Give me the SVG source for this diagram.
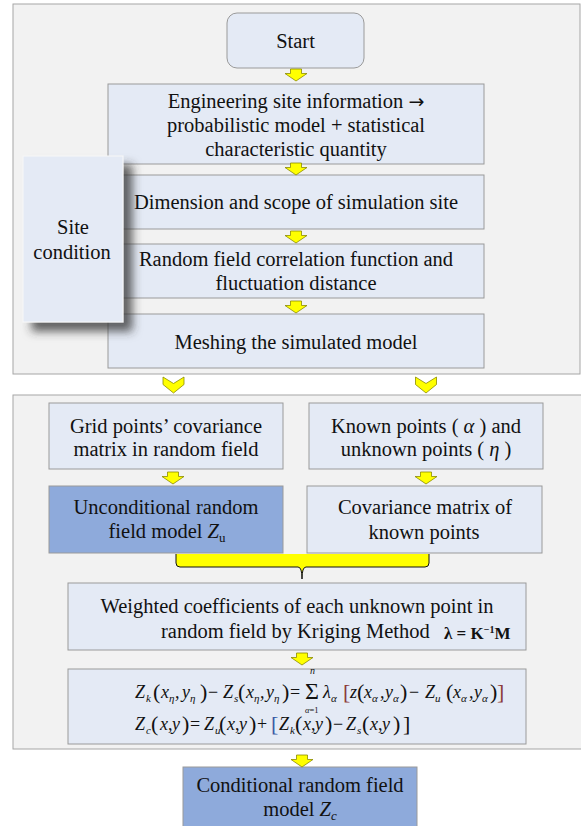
<svg xmlns="http://www.w3.org/2000/svg" width="581" height="826" viewBox="0 0 581 826">
<style>
.panel{fill:#f2f2f2;stroke:#a6a6a6;stroke-width:1}
.box{fill:#e4eaf5;stroke:#9a9a9a;stroke-width:1}
.dark{fill:#8eaadb;stroke:#9a9a9a;stroke-width:1}
.t{font-family:'Liberation Serif','Times New Roman','DejaVu Serif',serif;font-size:20.5px;fill:#111;text-anchor:middle}
.ya{fill:#ffff00;stroke:#8c8c00;stroke-width:0.8}
.m{font-family:'Liberation Serif','Times New Roman','DejaVu Serif',serif;font-size:18px;font-style:italic;fill:#111}
.r{font-style:normal}
.p{font-style:normal;font-size:22px}
.s{font-size:11px}
.kb{font-family:'Liberation Serif','Times New Roman','DejaVu Serif',serif;font-size:17px;font-weight:bold;fill:#111}
</style>
<defs>
<path id="da" d="M-5.5,0 H5.5 V4.5 H11 L0,12 L-11,4.5 H-5.5 Z"/>
<path id="chev" d="M-10.5,0 L0,6.5 L10.5,0 V7.5 L0,16 L-10.5,7.5 Z"/>
<filter id="sh" x="-20%" y="-20%" width="150%" height="150%">
<feDropShadow dx="9" dy="9" stdDeviation="5" flood-color="#303030" flood-opacity="0.75"/>
</filter>
</defs>
<rect width="581" height="826" fill="#ffffff"/>
<g id="panel-site">
<rect class="panel" x="13" y="4" width="567" height="370"/>
</g>
<g id="panel-model">
<rect class="panel" x="13" y="395" width="572" height="354"/>
</g>
<g id="start">
<rect class="box" x="227" y="13" width="137" height="55" rx="10"/>
<text class="t" x="295.5" y="48">Start</text>
</g>
<g id="engineering">
<rect class="box" x="108" y="84" width="376" height="80"/>
<text class="t" x="296" y="108">Engineering site information <tspan style="font-family:'DejaVu Sans',sans-serif;font-size:19px">→</tspan></text>
<text class="t" x="296" y="132">probabilistic model + statistical</text>
<text class="t" x="296" y="156">characteristic quantity</text>
</g>
<g id="dimension">
<rect class="box" x="108" y="175" width="376" height="54"/>
<text class="t" x="296" y="209">Dimension and scope of simulation site</text>
</g>
<g id="correlation">
<rect class="box" x="108" y="244" width="376" height="54"/>
<text class="t" x="296" y="266">Random field correlation function and</text>
<text class="t" x="296" y="290">fluctuation distance</text>
</g>
<g id="meshing">
<rect class="box" x="108" y="314" width="376" height="54"/>
<text class="t" x="296" y="349">Meshing the simulated model</text>
</g>
<g id="site-condition">
<rect x="23" y="156" width="100" height="166" fill="#e4eaf5" stroke="#f8f8f8" stroke-width="1" filter="url(#sh)"/>
<text class="t" x="73" y="234">Site</text>
<text class="t" x="72" y="259">condition</text>
</g>
<g id="grid-cov">
<rect class="box" x="49" y="403" width="234" height="66"/>
<text class="t" x="166" y="433">Grid points’ covariance</text>
<text class="t" x="166" y="456">matrix in random field</text>
</g>
<g id="known-points">
<rect class="box" x="309" y="403" width="234" height="66"/>
<text class="t" x="426" y="433">Known points ( <tspan style="font-style:italic">α</tspan> ) and</text>
<text class="t" x="426" y="456">unknown points ( <tspan style="font-style:italic">η</tspan> )</text>
</g>
<g id="unconditional">
<rect class="dark" x="49" y="486" width="234" height="67"/>
<text class="t" x="166" y="514">Unconditional random</text>
<text class="t" x="167" y="538">field model <tspan style="font-style:italic">Z</tspan><tspan style="font-size:13px" dy="4">u</tspan></text>
</g>
<g id="known-cov">
<rect class="box" x="307" y="486" width="235" height="67"/>
<text class="t" x="425" y="514">Covariance matrix of</text>
<text class="t" x="424" y="539">known points</text>
</g>
<g id="brace">
<path d="M176,554 V563 Q176,567 180,567 H298 Q302,567 302,579 Q302,567 306,567 H425 Q429,567 429,563 V554 Z" fill="#ffff00"/>
<path d="M176,554 V563 Q176,567 180,567 H298 Q302,567 302,579 Q302,567 306,567 H425 Q429,567 429,563 V554" fill="none" stroke="#111" stroke-width="1"/>
</g>
<g id="kriging">
<rect class="box" x="68" y="583" width="458" height="67"/>
<text class="t" x="297" y="613">Weighted coefficients of each unknown point in</text>
<text class="t" x="161" y="638" style="text-anchor:start">random field by Kriging Method</text>
<text class="kb" x="444" y="639">λ = K<tspan style="font-size:10px" dy="-6">−1</tspan><tspan dy="6">M</tspan></text>
</g>
<g id="formula">
<rect class="box" x="68" y="669" width="458" height="75"/>
<text class="m" y="698"><tspan x="135">Z</tspan><tspan class="s" x="146" y="702">k</tspan><tspan class="p" x="153" y="699">(</tspan><tspan x="161" y="698">x</tspan><tspan class="s" x="169" y="702">η</tspan><tspan x="175" y="698">,</tspan><tspan x="182">y</tspan><tspan class="s" x="190" y="702">η</tspan><tspan class="p" x="200" y="699">)</tspan><tspan class="r" x="208" y="698">−</tspan><tspan x="223">Z</tspan><tspan class="s" x="234" y="702">s</tspan><tspan class="p" x="238" y="699">(</tspan><tspan x="246" y="698">x</tspan><tspan class="s" x="254" y="702">η</tspan><tspan x="260" y="698">,</tspan><tspan x="266">y</tspan><tspan class="s" x="274" y="702">η</tspan><tspan class="p" x="282" y="699">)</tspan><tspan class="r" x="290" y="698">=</tspan><tspan x="323" y="698">λ</tspan><tspan class="s" x="331" y="702">α</tspan><tspan class="p" x="343" y="699" style="fill:#8b3a3a">[</tspan><tspan x="350" y="698">z</tspan><tspan class="p" x="357" y="699">(</tspan><tspan x="364" y="698">x</tspan><tspan class="s" x="372" y="702">α</tspan><tspan x="380" y="698">,</tspan><tspan x="385">y</tspan><tspan class="s" x="393" y="702">α</tspan><tspan class="p" x="400" y="699">)</tspan><tspan class="r" x="409" y="698">−</tspan><tspan x="425">Z</tspan><tspan class="s" x="435" y="702">u</tspan><tspan class="p" x="446" y="699">(</tspan><tspan x="453" y="698">x</tspan><tspan class="s" x="461" y="702">α</tspan><tspan x="469" y="698">,</tspan><tspan x="474">y</tspan><tspan class="s" x="482" y="702">α</tspan><tspan class="p" x="490" y="699">)</tspan><tspan class="p" x="497" y="699" style="fill:#8b3a3a">]</tspan></text>
<text class="m" x="305" y="699" style="font-style:normal;font-size:24px">Σ</text>
<text class="m" x="310" y="674" style="font-size:10px">n</text>
<text class="m" x="305" y="713" style="font-size:8.5px">α<tspan class="r">=1</tspan></text>
<text class="m" y="730"><tspan x="135">Z</tspan><tspan class="s" x="146" y="734">c</tspan><tspan class="p" x="151" y="731">(</tspan><tspan x="160" y="730">x</tspan><tspan class="r" x="168">,</tspan><tspan x="172">y</tspan><tspan class="p" x="182" y="731">)</tspan><tspan class="r" x="190" y="730">=</tspan><tspan x="204">Z</tspan><tspan class="s" x="215" y="734">u</tspan><tspan class="p" x="219" y="731">(</tspan><tspan x="227" y="730">x</tspan><tspan class="r" x="235">,</tspan><tspan x="239">y</tspan><tspan class="p" x="249" y="731">)</tspan><tspan class="r" x="257" y="730">+</tspan><tspan class="p" x="271" y="731" style="fill:#3b5ba5">[</tspan><tspan x="279" y="730">Z</tspan><tspan class="s" x="290" y="734">k</tspan><tspan class="p" x="295" y="731">(</tspan><tspan x="303" y="730">x</tspan><tspan class="r" x="311">,</tspan><tspan x="315">y</tspan><tspan class="p" x="325" y="731">)</tspan><tspan class="r" x="333" y="730">−</tspan><tspan x="346">Z</tspan><tspan class="s" x="357" y="734">s</tspan><tspan class="p" x="362" y="731">(</tspan><tspan x="370" y="730">x</tspan><tspan class="r" x="378">,</tspan><tspan x="382">y</tspan><tspan class="p" x="393" y="731">)</tspan><tspan class="p" x="403" y="731">]</tspan></text>
</g>
<g id="conditional">
<rect class="dark" x="183" y="767" width="234" height="60"/>
<text class="t" x="300" y="792">Conditional random field</text>
<text class="t" x="300" y="816">model <tspan style="font-style:italic">Z</tspan><tspan style="font-size:13px;font-style:italic" dy="4">c</tspan></text>
</g>
<g id="connectors">
<use href="#da" class="ya" x="296" y="69"/>
<use href="#da" class="ya" x="296" y="163"/>
<use href="#da" class="ya" x="296" y="231"/>
<use href="#da" class="ya" x="296" y="301"/>
<use href="#chev" class="ya" x="173.5" y="377"/>
<use href="#chev" class="ya" x="426" y="377"/>
<use href="#da" class="ya" x="173" y="472"/>
<use href="#da" class="ya" x="426" y="472"/>
<use href="#da" class="ya" x="302" y="653"/>
<use href="#da" class="ya" x="302" y="755"/>
</g>
</svg>
